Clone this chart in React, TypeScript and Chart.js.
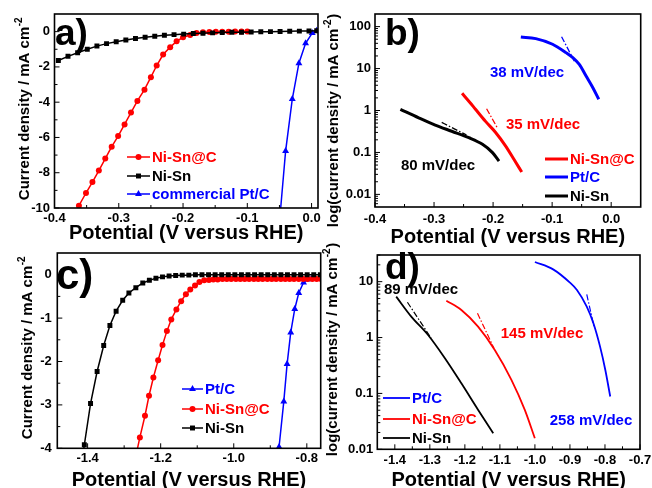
import React, { useEffect, useRef } from 'react';
import { Chart, registerables } from 'chart.js';

Chart.register(...registerables);

const FONT = '"Liberation Sans", Arial, Helvetica, sans-serif';
const RED = '#ff0000';
const BLUE = '#0000ff';
const BLACK = '#000000';
const PAGE_W = 652;
const PAGE_H = 488;

// ---------------- Panel a: LSV (mA cm-2 vs V) ----------------
const A_NISN_X = [-0.394, -0.379, -0.364, -0.349, -0.334, -0.319, -0.304, -0.289, -0.274, -0.259, -0.244, -0.229, -0.214, -0.199, -0.184, -0.169, -0.154, -0.139, -0.124, -0.109, -0.094, -0.079, -0.064, -0.049, -0.034, -0.019, -0.004, 0.008];
const A_NISN_Y = [-1.64, -1.40, -1.2, -1.0, -0.82, -0.68, -0.57, -0.47, -0.39, -0.32, -0.26, -0.21, -0.17, -0.14, -0.11, -0.09, -0.07, -0.05, -0.04, -0.03, -0.02, -0.01, 0, 0.01, 0.02, 0.03, 0.04, 0.05];
const A_NISNC_X = [-0.362, -0.351, -0.341, -0.331, -0.321, -0.311, -0.301, -0.291, -0.281, -0.271, -0.26, -0.25, -0.241, -0.231, -0.22, -0.21, -0.2, -0.189, -0.179, -0.169, -0.159, -0.149, -0.139, -0.129, -0.119, -0.109, -0.1];
const A_NISNC_Y = [-9.87, -9.15, -8.53, -7.88, -7.2, -6.52, -5.92, -5.26, -4.59, -3.93, -3.29, -2.58, -1.92, -1.3, -0.88, -0.55, -0.32, -0.19, -0.08, -0.04, -0.02, -0.01, 0, 0, 0.01, 0.01, 0.01];
const A_PTC_X = [-0.049, -0.0404, -0.030, -0.0197, -0.0093, 0.001, 0.008];
const A_PTC_Y = [-10.4, -6.77, -3.82, -1.79, -0.66, -0.08, 0.05];
const A_X_TICKS = [-0.4, -0.3, -0.2, -0.1, 0.0];
const A_X_MINOR = [-0.35, -0.25, -0.15, -0.05];
const A_Y_TICKS = [0, -2, -4, -6, -8, -10];
const A_Y_MINOR = [-1, -3, -5, -7, -9];

// ---------------- Panel b: Tafel plots ----------------
const B_NISN_X = [-0.357, -0.326, -0.298, -0.27, -0.241, -0.218, -0.201, -0.19];
const B_NISN_Y = [1.07, 0.67, 0.45, 0.32, 0.225, 0.156, 0.099, 0.062];
const B_NISN_FIT_X = [-0.287, -0.245];
const B_NISN_FIT_Y = [0.52, 0.26];
const B_NISNC_X = [-0.2525, -0.24, -0.2298, -0.2128, -0.1957, -0.1787, -0.1645, -0.1515];
const B_NISNC_Y = [2.57, 1.6, 1.07, 0.55, 0.30, 0.142, 0.068, 0.034];
const B_NISNC_FIT_X = [-0.211, -0.193];
const B_NISNC_FIT_Y = [1.1, 0.39];
const B_PTC_X = [-0.153, -0.1277, -0.0993, -0.0766, -0.065, -0.054, -0.0425, -0.031, -0.021];
const B_PTC_Y = [56.7, 51.7, 38, 24, 18.2, 12.6, 6.65, 3.5, 1.85];
const B_PTC_FIT_X = [-0.084, -0.0624];
const B_PTC_FIT_Y = [57.5, 15];
const B_X_TICKS = [-0.4, -0.3, -0.2, -0.1, 0.0];
const B_X_MINOR = [-0.35, -0.25, -0.15, -0.05];
const B_Y_TICKS = [0.01, 0.1, 1, 10, 100];
const B_Y_MINOR = [0.006, 0.007, 0.008, 0.009, 0.02, 0.03, 0.04, 0.05, 0.06, 0.07, 0.08, 0.09, 0.2, 0.3, 0.4, 0.5, 0.6, 0.7, 0.8, 0.9, 2, 3, 4, 5, 6, 7, 8, 9, 20, 30, 40, 50, 60, 70, 80, 90];

// ---------------- Panel c: LSV (mA cm-2 vs V) ----------------
const C_NISN_X = [-1.412, -1.409, -1.392, -1.374, -1.356, -1.339, -1.322, -1.304, -1.287, -1.268, -1.249, -1.231, -1.213, -1.195, -1.177, -1.159, -1.141, -1.123, -1.105, -1.087, -1.069, -1.051, -1.033, -1.015, -0.997, -0.979, -0.961, -0.943, -0.925, -0.907, -0.889, -0.871, -0.853, -0.835, -0.817, -0.799, -0.781, -0.763];
const C_NISN_Y = [-4.1, -3.92, -2.97, -2.23, -1.63, -1.17, -0.84, -0.59, -0.42, -0.30, -0.19, -0.13, -0.08, -0.05, -0.03, -0.02, -0.01, -0.01, 0, 0, 0, 0, 0, 0, 0, 0, 0, 0, 0, 0, 0, 0, 0, 0, 0, 0, 0, 0];
const C_NISNC_X = [-1.266, -1.257, -1.243, -1.232, -1.220, -1.207, -1.195, -1.183, -1.171, -1.157, -1.144, -1.131, -1.119, -1.106, -1.094, -1.081, -1.068, -1.056, -1.044, -1.031, -1.019, -1.007, -0.994, -0.982, -0.970, -0.958, -0.945, -0.933, -0.921, -0.908, -0.896, -0.884, -0.871, -0.859, -0.847, -0.835, -0.822, -0.810, -0.798, -0.785, -0.773, -0.761];
const C_NISNC_Y = [-4.1, -3.75, -3.25, -2.79, -2.37, -1.97, -1.62, -1.30, -1.03, -0.80, -0.61, -0.45, -0.34, -0.25, -0.17, -0.13, -0.12, -0.11, -0.11, -0.10, -0.10, -0.10, -0.10, -0.10, -0.10, -0.10, -0.10, -0.10, -0.10, -0.10, -0.10, -0.10, -0.10, -0.10, -0.10, -0.10, -0.10, -0.10, -0.10, -0.10, -0.10, -0.10];
const C_PTC_X = [-0.876, -0.863, -0.854, -0.844, -0.833, -0.822, -0.809, -0.799, -0.788, -0.777, -0.766];
const C_PTC_Y = [-3.97, -2.92, -2.06, -1.33, -0.79, -0.42, -0.18, -0.11, -0.10, -0.10, -0.10];
const C_X_TICKS = [-1.4, -1.2, -1.0, -0.8];
const C_X_MINOR = [-1.3, -1.1, -0.9];
const C_Y_TICKS = [0, -1, -2, -3, -4];
const C_Y_MINOR = [-0.5, -1.5, -2.5, -3.5];

// ---------------- Panel d: Tafel plots ----------------
const D_NISN_X = [-1.396, -1.353, -1.305, -1.257, -1.21, -1.162, -1.119];
const D_NISN_Y = [5.39, 2.37, 1.11, 0.427, 0.152, 0.0507, 0.0194];
const D_NISN_FIT_X = [-1.364, -1.296];
const D_NISN_FIT_Y = [4.28, 0.97];
const D_NISNC_X = [-1.2529, -1.21, -1.1623, -1.1146, -1.0671, -1.0289, -1.0003];
const D_NISNC_Y = [4.57, 3.12, 1.57, 0.60, 0.175, 0.0507, 0.0158];
const D_NISNC_FIT_X = [-1.164, -1.117];
const D_NISNC_FIT_Y = [2.72, 0.644];
const D_PTC_X = [-1.0, -0.948, -0.9, -0.88, -0.852, -0.833, -0.814, -0.799, -0.785];
const D_PTC_Y = [22.5, 16.6, 9.6, 7.1, 3.57, 1.8, 0.687, 0.263, 0.088];
const D_PTC_FIT_X = [-0.852, -0.831];
const D_PTC_FIT_Y = [5.9, 1.55];
const D_X_TICKS = [-1.4, -1.3, -1.2, -1.1, -1.0, -0.9, -0.8, -0.7];
const D_X_MINOR = [-1.35, -1.25, -1.15, -1.05, -0.95, -0.85, -0.75];
const D_Y_TICKS = [0.01, 0.1, 1, 10];
const D_Y_MINOR = [0.02, 0.03, 0.04, 0.05, 0.06, 0.07, 0.08, 0.09, 0.2, 0.3, 0.4, 0.5, 0.6, 0.7, 0.8, 0.9, 2, 3, 4, 5, 6, 7, 8, 9, 20, 30];

const X_TITLE = 'Potential (V versus RHE)';
const LVC_Y_TITLE = 'Current density / mA cm';
const TAFEL_Y_TITLE = 'log(current density / mA cm';

const pts = (xs: number[], ys: number[]) => xs.map((x, i) => ({ x, y: ys[i] }));

const TICK_FONT = { family: FONT, size: 13, weight: 'bold' };

function markerSet(label: string, xs: number[], ys: number[], color: string, style: string, r: number) {
  return {
    label,
    data: pts(xs, ys),
    borderColor: color,
    backgroundColor: color,
    borderWidth: 1.5,
    pointStyle: style,
    pointRadius: r,
    pointBackgroundColor: color,
    pointBorderColor: color,
    pointBorderWidth: 0,
    tension: 0,
    fill: false,
  };
}

function lineSet(label: string, xs: number[], ys: number[], color: string, w: number, dash?: number[]) {
  return {
    label,
    data: pts(xs, ys),
    borderColor: color,
    backgroundColor: color,
    borderWidth: w,
    borderDash: dash || [],
    pointRadius: 0,
    cubicInterpolationMode: 'monotone',
    fill: false,
  };
}

function drawMarker(ctx: CanvasRenderingContext2D, style: string, x: number, y: number, r: number) {
  ctx.beginPath();
  if (style === 'rect') {
    const s = r * Math.SQRT1_2;
    ctx.rect(x - s, y - s, 2 * s, 2 * s);
  } else if (style === 'triangle') {
    ctx.moveTo(x, y - r);
    ctx.lineTo(x + r * 0.866, y + r * 0.5);
    ctx.lineTo(x - r * 0.866, y + r * 0.5);
    ctx.closePath();
  } else {
    ctx.arc(x, y, r, 0, Math.PI * 2);
  }
  ctx.fill();
}

function overlay(p: any) {
  return {
    id: 'overlay',
    afterDatasetsDraw(chart: any) {
      const ctx: CanvasRenderingContext2D = chart.ctx;
      const a = chart.chartArea;
      const xs = chart.scales.x;
      const ys = chart.scales.y;
      ctx.save();
      ctx.strokeStyle = BLACK;
      ctx.lineWidth = 1;
      const xt = (v: number, len: number) => {
        const px = xs.getPixelForValue(v);
        ctx.beginPath();
        ctx.moveTo(px, a.bottom);
        ctx.lineTo(px, a.bottom - len);
        ctx.stroke();
      };
      const yt = (v: number, len: number) => {
        const py = ys.getPixelForValue(v);
        ctx.beginPath();
        ctx.moveTo(a.left, py);
        ctx.lineTo(a.left + len, py);
        ctx.stroke();
      };
      p.x.major.forEach((v: number) => xt(v, 5));
      p.x.minor.forEach((v: number) => xt(v, 3));
      p.y.major.forEach((v: number) => yt(v, 5));
      p.y.minor.forEach((v: number) => yt(v, 3));
      ctx.lineWidth = 1.6;
      ctx.strokeRect(a.left, a.top, a.right - a.left, a.bottom - a.top);

      // y title (rotated, with superscript)
      const t = p.yTitle;
      ctx.save();
      ctx.translate(t.cx, t.cy);
      ctx.rotate(-Math.PI / 2);
      ctx.fillStyle = BLACK;
      ctx.textBaseline = 'middle';
      ctx.textAlign = 'left';
      const mainFont = `bold 15px ${FONT}`;
      const supFont = `bold 10px ${FONT}`;
      ctx.font = mainFont;
      const wMain = ctx.measureText(t.main).width;
      const wTail = t.tail ? ctx.measureText(t.tail).width : 0;
      ctx.font = supFont;
      const wSup = ctx.measureText('-2').width;
      const x0 = -(wMain + wSup + wTail) / 2;
      ctx.font = mainFont;
      ctx.fillText(t.main, x0, 0);
      ctx.font = supFont;
      ctx.fillText('-2', x0 + wMain + 0.5, -6);
      if (t.tail) {
        ctx.font = mainFont;
        ctx.fillText(t.tail, x0 + wMain + wSup + 1, 0);
      }
      ctx.restore();

      // legend
      p.legend.forEach((it: any) => {
        ctx.strokeStyle = it.color;
        ctx.lineWidth = it.lw;
        ctx.beginPath();
        ctx.moveTo(it.x1, it.y);
        ctx.lineTo(it.x2, it.y);
        ctx.stroke();
        if (it.marker) {
          ctx.fillStyle = it.color;
          drawMarker(ctx, it.marker, (it.x1 + it.x2) / 2, it.y, it.mr);
        }
        ctx.fillStyle = it.color;
        ctx.font = `bold 15px ${FONT}`;
        ctx.textAlign = 'left';
        ctx.textBaseline = 'middle';
        ctx.fillText(it.text, it.tx, it.y + 0.5);
      });

      // slope notes
      p.notes.forEach((n: any) => {
        ctx.fillStyle = n.color;
        ctx.font = `bold 15px ${FONT}`;
        ctx.textAlign = 'center';
        ctx.textBaseline = 'middle';
        ctx.fillText(n.text, n.cx, n.cy);
      });

      // panel label
      const lb = p.label;
      ctx.fillStyle = BLACK;
      ctx.font = `bold ${lb.size}px ${FONT}`;
      ctx.textAlign = 'left';
      ctx.textBaseline = 'alphabetic';
      ctx.fillText(lb.text, lb.x, lb.y);
      ctx.restore();
    },
  };
}

function makeConfig(p: any) {
  const [L, T, R, B] = p.area;
  const axisW = 40;
  return {
    type: 'line',
    data: { datasets: p.datasets },
    options: {
      responsive: false,
      animation: false,
      events: [],
      layout: { padding: { left: L - axisW, top: T, right: PAGE_W - R, bottom: 0 } },
      plugins: { legend: { display: false }, tooltip: { enabled: false }, title: { display: false } },
      scales: {
        x: {
          type: 'linear',
          position: 'bottom',
          min: p.x.min,
          max: p.x.max,
          bounds: 'data',
          grid: { display: false, drawTicks: false },
          border: { display: false },
          afterBuildTicks: (s: any) => {
            s.ticks = p.x.major.map((v: number) => ({ value: v }));
          },
          afterFit: (s: any) => {
            s.height = PAGE_H - B;
            s.paddingLeft = 0;
            s.paddingRight = 0;
          },
          ticks: {
            autoSkip: false,
            maxRotation: 0,
            minRotation: 0,
            padding: p.x.pad,
            color: BLACK,
            font: TICK_FONT,
            callback: (v: any) => p.x.fmt(Number(v)),
          },
          title: {
            display: true,
            text: X_TITLE,
            color: BLACK,
            font: { family: FONT, size: 20, weight: 'bold' },
            padding: { top: 0, bottom: PAGE_H - p.x.titleY - 12 },
          },
        },
        y: {
          type: p.y.type,
          position: 'left',
          min: p.y.min,
          max: p.y.max,
          bounds: 'data',
          grid: { display: false, drawTicks: false },
          border: { display: false },
          afterBuildTicks: (s: any) => {
            s.ticks = p.y.major.map((v: number) => ({ value: v }));
          },
          afterFit: (s: any) => {
            s.width = axisW;
            s.paddingTop = 0;
            s.paddingBottom = 0;
          },
          ticks: {
            autoSkip: false,
            padding: p.y.pad,
            color: BLACK,
            font: TICK_FONT,
            callback: (v: any) => p.y.fmt(Number(v)),
          },
          title: { display: false },
        },
      },
    },
    plugins: [overlay(p)],
  };
}

const fix1 = (v: number) => v.toFixed(1);
const plain = (v: number) => String(v);
const DASHDOT = [6, 2, 1.5, 2];

const PANEL_A = {
  area: [54.5, 14, 318, 208],
  x: { min: -0.4, max: 0.01, major: A_X_TICKS, minor: A_X_MINOR, fmt: fix1, pad: 2.5, titleY: 233 },
  y: { type: 'linear', min: -10, max: 1, major: A_Y_TICKS, minor: A_Y_MINOR, fmt: plain, pad: 4.5 },
  yTitle: { main: LVC_Y_TITLE, tail: '', cx: 25, cy: 109 },
  label: { text: 'a)', x: 55, y: 45, size: 37 },
  legend: [
    { text: 'Ni-Sn@C', color: RED, x1: 127, x2: 150, y: 157, tx: 152, lw: 1.5, marker: 'circle', mr: 3 },
    { text: 'Ni-Sn', color: BLACK, x1: 127, x2: 150, y: 176, tx: 152, lw: 1.5, marker: 'rect', mr: 3.5 },
    { text: 'commercial Pt/C', color: BLUE, x1: 127, x2: 150, y: 194, tx: 152, lw: 1.5, marker: 'triangle', mr: 4 },
  ],
  notes: [],
  datasets: [
    markerSet('Ni-Sn', A_NISN_X, A_NISN_Y, BLACK, 'rect', 3.5),
    markerSet('Ni-Sn@C', A_NISNC_X, A_NISNC_Y, RED, 'circle', 3),
    markerSet('commercial Pt/C', A_PTC_X, A_PTC_Y, BLUE, 'triangle', 4),
  ],
};

const PANEL_B = {
  area: [375, 14, 640.7, 207],
  x: { min: -0.4, max: 0.05, major: B_X_TICKS, minor: B_X_MINOR, fmt: fix1, pad: 4.5, titleY: 237 },
  y: { type: 'logarithmic', min: 0.005, max: 200, major: B_Y_TICKS, minor: B_Y_MINOR, fmt: plain, pad: 4 },
  yTitle: { main: TAFEL_Y_TITLE, tail: ')', cx: 334, cy: 121 },
  label: { text: 'b)', x: 385, y: 45, size: 37 },
  legend: [
    { text: 'Ni-Sn@C', color: RED, x1: 545, x2: 568, y: 159, tx: 570, lw: 3 },
    { text: 'Pt/C', color: BLUE, x1: 545, x2: 568, y: 177, tx: 570, lw: 3 },
    { text: 'Ni-Sn', color: BLACK, x1: 545, x2: 568, y: 196, tx: 570, lw: 3 },
  ],
  notes: [
    { text: '38 mV/dec', color: BLUE, cx: 527, cy: 73 },
    { text: '35 mV/dec', color: RED, cx: 543, cy: 125 },
    { text: '80 mV/dec', color: BLACK, cx: 438, cy: 166 },
  ],
  datasets: [
    lineSet('Ni-Sn', B_NISN_X, B_NISN_Y, BLACK, 3),
    lineSet('Ni-Sn fit', B_NISN_FIT_X, B_NISN_FIT_Y, BLACK, 1.3, DASHDOT),
    lineSet('Ni-Sn@C', B_NISNC_X, B_NISNC_Y, RED, 3),
    lineSet('Ni-Sn@C fit', B_NISNC_FIT_X, B_NISNC_FIT_Y, RED, 1.3, DASHDOT),
    lineSet('Pt/C', B_PTC_X, B_PTC_Y, BLUE, 3),
    lineSet('Pt/C fit', B_PTC_FIT_X, B_PTC_FIT_Y, BLUE, 1.3, DASHDOT),
  ],
};

const PANEL_C = {
  area: [57.3, 253, 320.7, 448.3],
  x: { min: -1.483, max: -0.762, major: C_X_TICKS, minor: C_X_MINOR, fmt: fix1, pad: 2.2, titleY: 480 },
  y: { type: 'linear', min: -4, max: 0.5, major: C_Y_TICKS, minor: C_Y_MINOR, fmt: plain, pad: 5.5 },
  yTitle: { main: LVC_Y_TITLE, tail: '', cx: 28, cy: 348 },
  label: { text: 'c)', x: 56, y: 289, size: 42 },
  legend: [
    { text: 'Pt/C', color: BLUE, x1: 182, x2: 203, y: 389, tx: 205, lw: 1.5, marker: 'triangle', mr: 4 },
    { text: 'Ni-Sn@C', color: RED, x1: 182, x2: 203, y: 409, tx: 205, lw: 1.5, marker: 'circle', mr: 3 },
    { text: 'Ni-Sn', color: BLACK, x1: 182, x2: 203, y: 428, tx: 205, lw: 1.5, marker: 'rect', mr: 3.5 },
  ],
  notes: [],
  datasets: [
    markerSet('Ni-Sn', C_NISN_X, C_NISN_Y, BLACK, 'rect', 3.5),
    markerSet('Ni-Sn@C', C_NISNC_X, C_NISNC_Y, RED, 'circle', 3),
    markerSet('Pt/C', C_PTC_X, C_PTC_Y, BLUE, 'triangle', 4),
  ],
};

const PANEL_D = {
  area: [377.3, 255, 640, 449.3],
  x: { min: -1.45, max: -0.7, major: D_X_TICKS, minor: D_X_MINOR, fmt: fix1, pad: 2.9, titleY: 480 },
  y: { type: 'logarithmic', min: 0.01, max: 30, major: D_Y_TICKS, minor: D_Y_MINOR, fmt: plain, pad: 4 },
  yTitle: { main: TAFEL_Y_TITLE, tail: ')', cx: 333, cy: 350 },
  label: { text: 'd)', x: 385, y: 279, size: 37 },
  legend: [
    { text: 'Pt/C', color: BLUE, x1: 383, x2: 410, y: 398, tx: 412, lw: 1.8 },
    { text: 'Ni-Sn@C', color: RED, x1: 383, x2: 410, y: 419, tx: 412, lw: 1.8 },
    { text: 'Ni-Sn', color: BLACK, x1: 383, x2: 410, y: 438, tx: 412, lw: 1.8 },
  ],
  notes: [
    { text: '89 mV/dec', color: BLACK, cx: 421, cy: 290 },
    { text: '145 mV/dec', color: RED, cx: 542, cy: 334 },
    { text: '258 mV/dec', color: BLUE, cx: 591, cy: 421 },
  ],
  datasets: [
    lineSet('Ni-Sn', D_NISN_X, D_NISN_Y, BLACK, 1.8),
    lineSet('Ni-Sn fit', D_NISN_FIT_X, D_NISN_FIT_Y, BLACK, 1.2, DASHDOT),
    lineSet('Ni-Sn@C', D_NISNC_X, D_NISNC_Y, RED, 1.8),
    lineSet('Ni-Sn@C fit', D_NISNC_FIT_X, D_NISNC_FIT_Y, RED, 1.2, DASHDOT),
    lineSet('Pt/C', D_PTC_X, D_PTC_Y, BLUE, 1.8),
    lineSet('Pt/C fit', D_PTC_FIT_X, D_PTC_FIT_Y, BLUE, 1.2, DASHDOT),
  ],
};

function Panel({ spec }: { spec: any }) {
  const ref = useRef<HTMLCanvasElement>(null);
  useEffect(() => {
    const chart = new Chart(ref.current as HTMLCanvasElement, makeConfig(spec) as any);
    return () => chart.destroy();
  }, [spec]);
  return (
    <canvas
      ref={ref}
      width={PAGE_W}
      height={PAGE_H}
      style={{ position: 'absolute', left: 0, top: 0, width: PAGE_W, height: PAGE_H }}
    />
  );
}

export default function App() {
  return (
    <div style={{ position: 'fixed', left: 0, top: 0, width: PAGE_W, height: PAGE_H, background: '#ffffff', overflow: 'hidden' }}>
      <Panel spec={PANEL_A} />
      <Panel spec={PANEL_B} />
      <Panel spec={PANEL_C} />
      <Panel spec={PANEL_D} />
    </div>
  );
}
